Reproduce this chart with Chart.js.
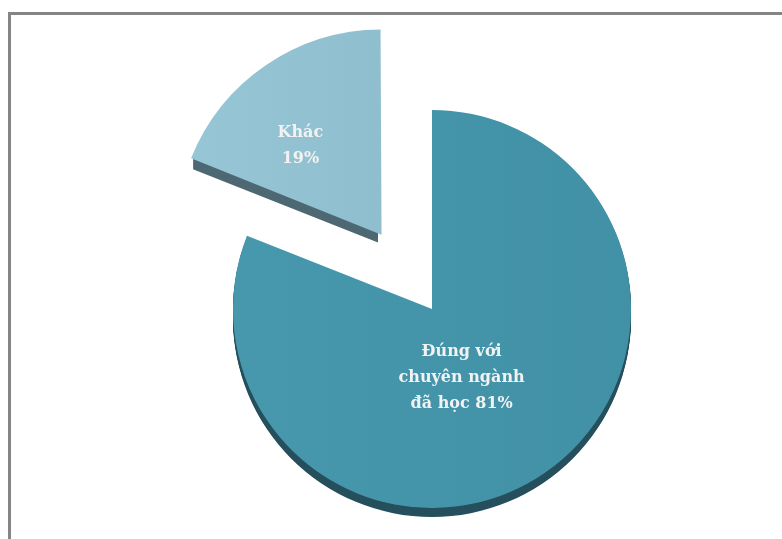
<!DOCTYPE html>
<html>
<head>
<meta charset="utf-8">
<title>Pie</title>
<script src="https://cdn.jsdelivr.net/npm/chart.js@4.4.1/dist/chart.umd.min.js"></script>
<style>
body { margin:0; background:#fff; }
#frame { position:absolute; left:8px; top:12px; width:774px; height:527px;
         border-top:3px solid #858585; border-left:3px solid #858585; box-sizing:border-box; }
#wrap { position:absolute; left:0; top:0; width:782px; height:539px; }
</style>
</head>
<body>
<div id="frame"></div>
<div id="wrap"><canvas id="pie1"></canvas></div>

<script>
// data
var labels  = [['Đúng với', 'chuyên ngành', 'đã học 81%'], ['Khác', '19%']];
var values  = [81, 19];
var colors  = ['#4393a8', '#95c3d3'];
var sides   = ['#254f5c', '#4e6873'];
var offsets = [0, 359];   // chart.js moves a slice by about offset/4

// how far chart.js actually shifts an arc (same formula as ArcElement.draw)
function shiftOf(p, off){
	var circ = p.endAngle - p.startAngle;
	var fix = 1 - Math.sin(Math.min(Math.PI, circ));
	return off / 4 * (1 + fix);
}

// darker copy underneath each slice = the 3d edge
var depthPlugin = {
	id: 'depth',
	beforeDatasetsDraw: function(chart){
		var ctx = chart.ctx;
		var arcs = chart.getDatasetMeta(0).data;
		arcs.forEach(function(arc, i){
			var p = arc.getProps(['x', 'y', 'startAngle', 'endAngle', 'outerRadius']);
			var mid = (p.startAngle + p.endAngle) / 2;
			var s = shiftOf(p, offsets[i]);
			var ox = Math.cos(mid) * s, oy = Math.sin(mid) * s;
			var d = i == 0 ? 9 : 13;
			ctx.save();
			ctx.fillStyle = sides[i];
			for (var k = 1; k <= d; k++) {
				ctx.beginPath();
				ctx.moveTo(p.x + ox, p.y + oy + k);
				ctx.arc(p.x + ox, p.y + oy + k, p.outerRadius, p.startAngle, p.endAngle);
				ctx.closePath();
				ctx.fill();
			}
			ctx.restore();
		});
	}
};

var labelPos  = [0.39, 0.56];
var labelNudge = [[-14, 5], [-15, 8]];
var labelPlugin = {
	id: 'sliceLabels',
	afterDatasetsDraw: function(chart){
		var ctx = chart.ctx;
		var arcs = chart.getDatasetMeta(0).data;
		ctx.save();
		ctx.font = 'bold 16px "DejaVu Serif", serif';
		ctx.fillStyle = '#f2f2f2';
		ctx.textAlign = 'center';
		ctx.textBaseline = 'middle';
		arcs.forEach(function(arc, i){
			var p = arc.getProps(['x', 'y', 'startAngle', 'endAngle', 'outerRadius']);
			var mid = (p.startAngle + p.endAngle) / 2;
			var r = shiftOf(p, offsets[i]) + p.outerRadius * labelPos[i];
			var cx = p.x + Math.cos(mid) * r + labelNudge[i][0];
			var cy = p.y + Math.sin(mid) * r + labelNudge[i][1];
			var lines = labels[i];
			var lh = 26;
			lines.forEach(function(t, j){
				ctx.fillText(t, cx, cy + (j - (lines.length - 1) / 2) * lh);
			});
		});
		ctx.restore();
	}
};

var ctx = document.getElementById('pie1').getContext('2d');
var chart = new Chart(ctx, {
	type: 'pie',
	data: {
		labels: labels.map(function(l){ return l.join(' '); }),
		datasets: [{
			data: values,
			backgroundColor: function(c){
				var a = c.chart.chartArea;
				if (!a) return colors[c.dataIndex];
				var g = c.chart.ctx.createLinearGradient(a.left, 0, a.right, 0);
				if (c.dataIndex == 0) {
					g.addColorStop(0, '#4a9bb0');
					g.addColorStop(1, '#3f8ea3');
				} else {
					g.addColorStop(0.1, '#9acad9');
					g.addColorStop(0.5, '#8fbfcf');
				}
				return g;
			},
			borderWidth: 0,
			offset: offsets
		}]
	},
	plugins: [depthPlugin, labelPlugin],
	options: {
		responsive: true,
		maintainAspectRatio: false,
		animation: false,
		radius: 199,
		layout: { padding: { left: 82, right: 0, top: 79, bottom: 0 } },
		plugins: { legend: { display: false }, tooltip: { enabled: false } }
	}
});
</script>
</body>
</html>
